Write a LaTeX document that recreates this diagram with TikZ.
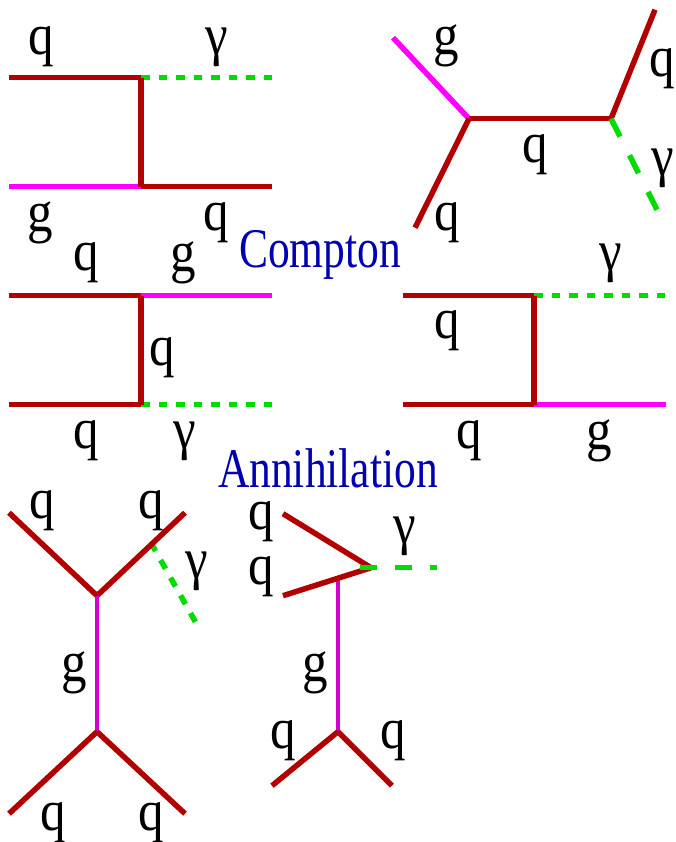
\documentclass[tikz,border=0pt]{standalone}
\usepackage{fontspec}
\setmainfont{Liberation Serif}
\definecolor{quark}{RGB}{178,0,0}
\definecolor{gluon}{RGB}{255,0,255}
\definecolor{gluonb}{RGB}{210,0,210}
\definecolor{phot}{RGB}{0,220,0}
\definecolor{titleblue}{RGB}{0,0,178}
\tikzset{
 q/.style={draw=quark,line width=5.5pt},
 gl/.style={draw=gluon,line width=5.5pt},
 glb/.style={draw=gluonb,line width=4.8pt},
 ph/.style={draw=phot,line width=5.5pt,dash pattern=on 8.5pt off 9pt},
 phl/.style={draw=phot,line width=5.5pt,dash pattern=on 20pt off 21pt},
 phm/.style={draw=phot,line width=5.5pt,dash pattern=on 10pt off 10.3pt,dash phase=2.7pt},
 phs/.style={draw=phot,line width=5.5pt,dash pattern=on 17.6pt off 17.4pt},
 lab/.style={inner sep=0pt,font=\fontsize{58}{58}\selectfont,xscale=.88,xshift=.8pt,yshift=-4.5pt,text=black},
 ttl/.style={inner sep=0pt,font=\fontsize{56}{56}\selectfont,xscale=.777,text=titleblue}
}
\begin{document}
\begin{tikzpicture}[x=1pt,y=-1pt]
\useasboundingbox (0,0) rectangle (675,842);
\begin{scope}[yshift=-0.7pt]
% Compton 1
\coordinate (a1) at (9,77); \coordinate (a2) at (141,77); \coordinate (a3) at (272,77);
\coordinate (a4) at (9,186); \coordinate (a5) at (141,186); \coordinate (a6) at (272,186);
\draw[q] (a1)--(a2); \draw[ph] (a2)--(a3); \draw[gl] (a4)--(a5); \draw[q] (a5)--(a6); \draw[q] (a2)--(a5);
\node[lab] (t1) at (41,42) {q}; \node[lab] (t2) at (216,42) {γ}; \node[lab] (t3) at (40,218) {g}; \node[lab] (t4) at (216,218) {q};
% Compton 2
\coordinate (b1) at (393,37); \coordinate (b2) at (469,118); \coordinate (b3) at (415,227);
\coordinate (b4) at (611,118); \coordinate (b5) at (655,9); \coordinate (b6) at (658,211);
\draw[gl] (b1)--(b2); \draw[q] (b3)--(b2); \draw[q] (b2)--(b4); \draw[q] (b4)--(b5); \draw[phl] (b4)--(b6);
\node[lab] (t5) at (446,41) {g}; \node[lab] (t6) at (447,218) {q}; \node[lab] (t7) at (535,150) {q}; \node[lab] (t8) at (661.4,64) {q}; \node[lab] (t9) at (662,163) {γ};
\node[ttl] (c1) at (320,254) {Compton};
% Compton 3
\coordinate (c2) at (9,295); \coordinate (c3) at (141,295); \coordinate (c4) at (272,295);
\coordinate (c5) at (9,404); \coordinate (c6) at (141,404); \coordinate (c7) at (272,404);
\draw[q] (c2)--(c3); \draw[gl] (c3)--(c4); \draw[q] (c5)--(c6); \draw[ph] (c6)--(c7); \draw[q] (c3)--(c6);
\node[lab] (t10) at (86,258) {q}; \node[lab] (t11) at (183,258) {g}; \node[lab] (t12) at (162,353) {q}; \node[lab] (t13) at (86,436) {q}; \node[lab] (t14) at (184,436) {γ};
% Compton 4
\coordinate (d1) at (403,295); \coordinate (d2) at (534,295); \coordinate (d3) at (666,295);
\coordinate (d4) at (403,404); \coordinate (d5) at (534,404); \coordinate (d6) at (666,404);
\draw[q] (d1)--(d2); \draw[ph] (d2)--(d3); \draw[q] (d4)--(d5); \draw[gl] (d5)--(d6); \draw[q] (d2)--(d5);
\node[lab] (t15) at (447,326) {q}; \node[lab] (t16) at (610,258) {γ}; \node[lab] (t17) at (469,436) {q}; \node[lab] (t18) at (599,436) {g};
\node[ttl] (c8) at (328,468) {Annihilation};
% bottom left
\coordinate (e1) at (9,512); \coordinate (e2) at (97,595); \coordinate (e3) at (185,512);
\coordinate (e4) at (97,731); \coordinate (e5) at (9,813); \coordinate (e6) at (185,813);
\coordinate (e7) at (152,544); \coordinate (e8) at (195.7,621.7);
\draw[phm] (e7)--(e8);
\draw[q] (e1)--(e2); \draw[q] (e2)--(e3); \draw[glb] (e2)--(e4); \draw[q] (e4)--(e5); \draw[q] (e4)--(e6);
\node[lab] (t19) at (42,506) {q}; \node[lab] (t20) at (151,506) {q}; \node[lab] (t21) at (196,566) {γ}; \node[lab] (t22) at (74,668) {g}; \node[lab] (t23) at (53,818) {q}; \node[lab] (t24) at (151,818) {q};
% bottom middle
\coordinate (f1) at (283,513); \coordinate (f2) at (371,567); \coordinate (f3) at (283,595); \coordinate (f4) at (436.5,567); \coordinate (f9) at (359.5,567);
\coordinate (f5) at (338,578); \coordinate (f6) at (338,731); \coordinate (f7) at (272,785); \coordinate (f8) at (392,785);
\draw[glb] (f5)--(f6); \draw[q] (f1)--(f2); \draw[q] (f3)--(f2); \draw[phs] (f9)--(f4); \draw[q] (f6)--(f7); \draw[q] (f6)--(f8);
\node[lab] (t25) at (261,517) {q}; \node[lab] (t26) at (261,572) {q}; \node[lab] (t27) at (404,531) {γ}; \node[lab] (t28) at (315,668) {g}; \node[lab] (t29) at (283,736) {q}; \node[lab] (t30) at (393,736) {q};
\end{scope}
\end{tikzpicture}
\end{document}
